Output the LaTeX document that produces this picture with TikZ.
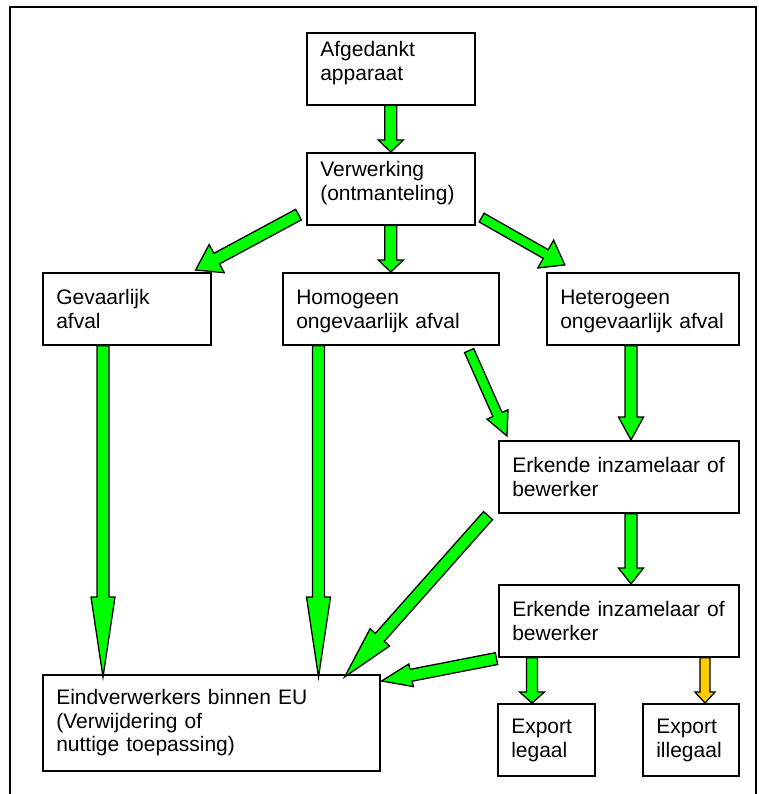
\documentclass[tikz,border=0pt]{standalone}
\usepackage{fontspec}
\setmainfont{Liberation Sans}
\usepackage{tikz}
\usetikzlibrary{calc}
\definecolor{flowgreen}{RGB}{0,255,0}
\definecolor{flowgold}{RGB}{255,204,0}
\tikzset{% boxes of the scheme
        box/.style={draw, line width=1.6pt, anchor=north west, inner xsep=13.5pt, inner ysep=0pt,
                    align=left, minimum height=72pt, text height=32pt, text depth=40pt,
                    font=\fontsize{21}{23.5}\selectfont},
        topbox/.style={box, text height=24pt, text depth=48pt},
        flow/.style={draw=black, line width=1.3pt, line join=miter}
        }
% block arrow: [colour]{from}{to}{half shaft}{half head}{head length}
\newcommand{\flowarrow}[6][flowgreen]{%
  \path[flow, fill=#1] let \p1=(#2), \p2=(#3), \n1={atan2(\y2-\y1,\x2-\x1)},
    \n2={veclen(\x2-\x1,\y2-\y1)} in [shift={(\p1)}, rotate=\n1]
    (0,#4) -- ({\n2-#6},#4) -- ({\n2-#6},#5) -- (\n2,0) -- ({\n2-#6},-#5)
    -- ({\n2-#6},-#4) -- (0,-#4) -- cycle;
}

\begin{document}
\begin{tikzpicture}[x=1pt, y=-1pt]
\useasboundingbox (0,0) rectangle (759,794);
\draw [line width=2pt] (10,800) -- (10,7) -- (756,7) -- (756,800);
\node [topbox, text width=141pt] (afg) at (306,32) {Afgedankt\\apparaat};
\node [topbox, text width=141pt] (verw) at (306,152) {Verwerking\\(ontmanteling)};
\node [box, text width=141pt] (gev) at (42,272) {Gevaarlijk\\afval};
\node [box, text width=189pt] (hom) at (282,272) {Homogeen\\ongevaarlijk afval};
\node [box, text width=165pt] (het) at (546,272) {Heterogeen\\ongevaarlijk afval};
\node [box, text width=213pt] (erk1) at (498,440) {Erkende inzamelaar of\\bewerker};
\node [box, text width=213pt] (erk2) at (498,584) {Erkende inzamelaar of\\bewerker};
\node [box, text width=310pt, minimum height=96pt, text height=30pt, text depth=66pt] (eind) at (42,674)
      {Eindverwerkers binnen EU\\(Verwijdering of\\nuttige toepassing)};
\node [box, text width=70pt, text height=30pt, text depth=42pt] (legaal) at (497,703) {Export\\legaal};
\node [box, text width=69pt, text height=30pt, text depth=42pt] (illegaal) at (642,703) {Export\\illegaal};

\flowarrow{afg.south}{verw.north}{6}{12.5}{12}
\flowarrow{verw.south}{hom.north}{6}{12.5}{12}
\flowarrow{$(verw.south west)+(-7.5,-11)$}{$(gev.north east)+(-16,-2)$}{6}{16}{24}
\flowarrow{$(verw.south east)+(6,-8)$}{$(het.north west)+(19,-7)$}{5}{16}{22}
\flowarrow{$(gev.south west)+(61,0)$}{$(eind.north west)+(61,3)$}{6}{12}{80}
\flowarrow{$(hom.south west)+(36.5,0)$}{$(eind.north west)+(276.5,3)$}{6}{12}{80}
\flowarrow{$(hom.south east)+(-30.5,5)$}{$(erk1.north west)+(9,-4)$}{5}{11.5}{23.5}
\flowarrow{$(het.south west)+(85,0)$}{$(erk1.north west)+(133,0)$}{6}{12.5}{23}
\flowarrow{$(erk1.south west)+(-10,2)$}{$(eind.north east)+(-36,3)$}{6}{13}{53}
\flowarrow{$(erk1.south west)+(133,0)$}{$(erk2.north west)+(133,0)$}{6}{12.5}{16}
\flowarrow{$(erk2.south west)+(-1.5,1)$}{$(eind.north east)+(1,7)$}{6}{11.5}{30}
\flowarrow{$(erk2.south west)+(34,0)$}{$(legaal.north west)+(35,0)$}{5.5}{12.5}{11}
\flowarrow[flowgold]{$(erk2.south west)+(207,0)$}{$(illegaal.north west)+(63,0)$}{5}{10}{11}
\end{tikzpicture}
\end{document}
